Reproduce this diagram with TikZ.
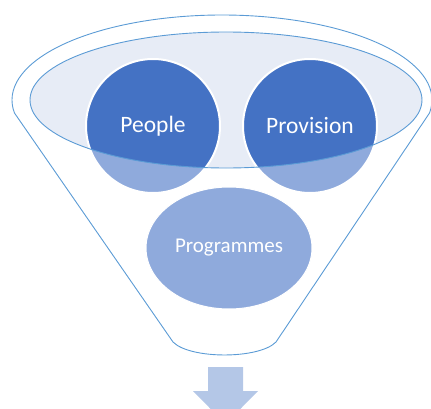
\documentclass[tikz,border=0pt]{standalone}
\usepackage{fontspec}
\setmainfont{Carlito}
\usetikzlibrary{shapes.geometric}
\definecolor{lineblue}{HTML}{5B9BD5}
\definecolor{darkfill}{HTML}{4472C4}
\definecolor{lightfill}{HTML}{8FAADC}
\definecolor{palefill}{HTML}{E7ECF6}
\definecolor{arrowfill}{HTML}{B4C7E7}
\begin{document}
\begin{tikzpicture}[x=1pt,y=1pt,
  funnelline/.style={draw=lineblue, line width=0.9pt},
  ball/.style={circle, minimum size=134pt, inner sep=0pt, fill=lightfill, draw=white, line width=2pt, text=white,
    font=\fontsize{23.5}{28}\selectfont,
    path picture={\fill[darkfill] (ec) ellipse [x radius=196pt, y radius=68pt];}},
  lowball/.style={ellipse, minimum width=166pt, minimum height=122pt, inner sep=0pt, fill=lightfill, draw=white, line width=1pt, text=white,
    font=\fontsize{21}{25}\selectfont}]
\useasboundingbox (0,0) rectangle (431,408);
\coordinate (ec) at (226,308);
% outer funnel
\path[funnelline] (429.5,295) arc[start angle=-8.8, end angle=188.8, x radius=210pt, y radius=85pt]
  -- (173,66) .. controls (190,48.7) and (259,48.7) .. (276,66) -- cycle;
% inner ellipse
\fill[palefill] (ec) ellipse [x radius=196pt, y radius=68pt];
% balls
\node[ball] (people) at (153,282) {};
\node[ball] (provision) at (310,282) {};
\node[lowball] (programmes) at (229,160) {Programmes};
% ellipse outline over balls
\draw[funnelline] (ec) ellipse [x radius=196pt, y radius=68pt];
\node[text=white, font=\fontsize{23.5}{28}\selectfont] (peoplelabel) at (people.center) {People};
\node[text=white, font=\fontsize{23.5}{28}\selectfont] (provisionlabel) at (provision.center) {Provision};
% arrow
\fill[arrowfill] (208,41) -- (243,41) -- (243,17) -- (258,17) -- (225.5,-16) -- (193,17) -- (208,17) -- cycle;
\end{tikzpicture}
\end{document}
